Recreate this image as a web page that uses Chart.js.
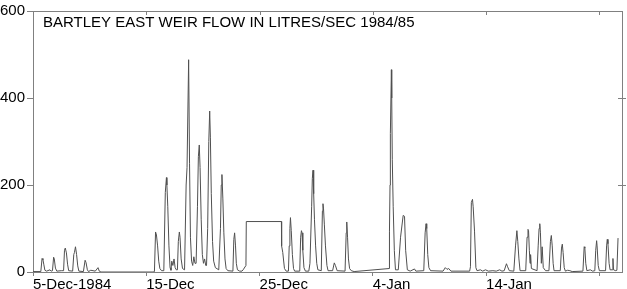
<!DOCTYPE html>
<html>
<head>
<meta charset="utf-8">
<script src="https://cdn.jsdelivr.net/npm/chart.js@4.4.1/dist/chart.umd.min.js"></script>
<style>
  html, body { margin: 0; padding: 0; background: #fff; }
  #wrap { width: 627px; height: 289px; }
</style>
</head>
<body>
<div id="wrap"><canvas id="flow-chart"></canvas></div>
<script>
const chartTitle = 'BARTLEY EAST WEIR FLOW IN LITRES/SEC 1984/85';
// days counted from 5-Dec-1984
const dateTicks = [0, 10, 20, 30, 40, 50];
const dateLabels = ['5-Dec-1984', '15-Dec', '25-Dec', '4-Jan', '14-Jan', ''];
const flowTicks = [0, 200, 400, 600];

const flowDays = [
  0.00, 0.69, 0.80, 0.88, 0.95, 1.05, 1.20, 1.50, 1.60, 1.72, 1.82, 1.88, 1.98, 2.10, 2.50, 2.70,
  2.78, 2.85, 2.95, 3.05, 3.15, 3.50, 3.60, 3.66, 3.75, 3.85, 3.95, 4.05, 4.45, 4.60, 4.68, 4.80,
  4.90, 5.10, 5.30, 5.50, 5.74, 5.85, 6.00, 10.60,
  10.72, 10.82, 10.90, 11.00, 11.10, 11.20, 11.35, 11.55, 11.68, 11.78, 11.82, 11.90, 12.00, 12.10,
  12.18, 12.25, 12.35, 12.45, 12.55, 12.65, 12.75, 12.83, 12.92, 12.98, 13.08, 13.20, 13.38, 13.52,
  13.60, 13.74, 13.82, 13.90, 14.00, 14.10, 14.20, 14.30, 14.40, 14.52, 14.60, 14.68, 14.75, 14.85,
  14.95, 15.05, 15.15, 15.25, 15.32, 15.42, 15.52, 15.60, 15.66, 15.74, 15.85, 15.95, 16.10, 16.40,
  16.55, 16.62, 16.68, 16.76, 16.85, 16.95, 17.05, 17.20, 17.65, 17.73, 17.80, 17.88, 17.95, 18.05,
  18.25, 18.45, 18.55, 18.80, 18.83, 21.93, 21.95, 22.05, 22.20, 22.35, 22.55, 22.62, 22.68, 22.73,
  22.80, 22.90, 23.00, 23.10, 23.55, 23.63, 23.70, 23.75, 23.82, 23.92, 24.05, 24.35, 24.45, 24.60,
  24.66, 24.72, 24.78, 24.85, 24.95, 25.05, 25.15, 25.45, 25.55, 25.60, 25.65, 25.72, 25.82, 25.95,
  26.05, 26.45, 26.60, 26.70, 26.85, 27.55, 27.65, 27.70, 27.77, 27.85, 27.95, 28.10, 28.35, 31.45,
  31.47, 31.52, 31.55, 31.64, 31.67, 31.72, 31.80, 31.90, 32.00, 32.25, 32.45, 32.68, 32.80, 32.90,
  33.05, 33.30, 33.68, 33.80, 34.50, 34.62, 34.70, 34.76, 34.85, 34.95, 35.10, 36.20, 36.40, 36.55,
  36.70, 36.90, 38.55, 38.62, 38.70, 38.80, 38.86, 38.98, 39.10, 39.20, 39.50, 39.70, 39.95, 40.20,
  40.60, 40.90, 41.20, 41.40, 41.60, 41.80, 41.90, 42.05, 42.45, 42.60, 42.72, 42.80, 42.90, 43.00,
  43.50, 43.62, 43.70, 43.75, 43.82, 43.88, 43.93, 44.00, 44.50, 44.60, 44.68, 44.74, 44.80, 44.88,
  44.95, 45.05, 45.25, 45.55, 45.68, 45.76, 45.84, 45.92, 46.00, 46.55, 46.66, 46.73, 46.80, 46.90,
  47.00, 47.20, 47.40, 47.60, 48.55, 48.66, 48.72, 48.80, 48.90, 49.20, 49.40, 49.60, 49.68, 49.76,
  49.80, 49.90, 50.00, 50.55, 50.64, 50.70, 50.76, 50.86, 50.95, 51.15, 51.20, 51.25, 51.45, 51.55,
  51.65
];
const flowValues = [
  1, 1, 31, 28, 18, 4, 2, 5, 2, 3, 34, 30, 9, 2, 3, 3,
  50, 55, 44, 18, 3, 2, 40, 45, 58, 40, 14, 2, 1, 27, 22, 5,
  1, 4, 3, 2, 10, 2, 0, 0,
  1, 92, 85, 60, 25, 8, 3, 3, 183, 217, 200, 150, 60, 10,
  4, 25, 15, 30, 10, 5, 5, 70, 92, 80, 30, 8, 5, 200,
  240, 488, 250, 80, 25, 15, 35, 20, 20, 150, 265, 292, 240, 120,
  40, 20, 30, 15, 15, 100, 300, 370, 310, 180, 70, 25, 10, 5,
  100, 200, 224, 170, 90, 30, 8, 3, 2, 75, 90, 60, 20, 5,
  2, 2, 5, 15, 116, 116, 60, 45, 8, 2, 2, 60, 100, 125,
  95, 40, 8, 2, 2, 80, 95, 90, 50, 10, 2, 2, 20, 150,
  215, 234, 180, 120, 60, 20, 5, 3, 140, 157, 145, 110, 60, 15,
  3, 3, 21, 15, 3, 2, 90, 115, 80, 30, 8, 3, 1, 8,
  94, 200, 318, 465, 400, 258, 150, 49, 5, 5, 80, 130, 128, 50,
  5, 2, 7, 2, 3, 90, 111, 100, 40, 10, 3, 2, 10, 6,
  8, 2, 2, 12, 160, 167, 150, 94, 10, 3, 5, 2, 5, 2,
  3, 2, 5, 2, 3, 19, 12, 3, 2, 60, 95, 70, 30, 3,
  3, 80, 98, 95, 50, 20, 40, 8, 3, 60, 100, 111, 90, 20,
  58, 10, 3, 3, 70, 84, 60, 20, 3, 3, 55, 64, 45, 10,
  2, 4, 3, 1, 2, 58, 55, 20, 3, 5, 2, 3, 50, 72,
  60, 15, 3, 3, 60, 75, 65, 20, 5, 5, 31, 5, 3, 4,
  78
];

const axisGrey = '#808080';
const labelFont = { family: '"Liberation Sans", Arial, sans-serif', size: 15 };

// title inside the plot + inward tick marks on the top and right frame
const frameExtras = {
  id: 'frameExtras',
  afterDraw(chart) {
    const ctx = chart.ctx;
    const area = chart.chartArea;
    const xs = chart.scales.x;
    const ys = chart.scales.y;
    ctx.save();
    ctx.strokeStyle = axisGrey;
    ctx.lineWidth = 1;
    ctx.beginPath();
    dateTicks.forEach(v => {
      const px = Math.round(xs.getPixelForValue(v)) + 0.5;
      if (v > 0 && px < area.right - 2) {
        ctx.moveTo(px, area.top);
        ctx.lineTo(px, area.top + 4);
      }
    });
    flowTicks.forEach(v => {
      const py = Math.round(ys.getPixelForValue(v)) + 0.5;
      if (v > 0 && v < 600) {
        ctx.moveTo(area.right - 4, py);
        ctx.lineTo(area.right + 4, py);
      }
    });
    ctx.stroke();
    ctx.fillStyle = '#000';
    ctx.font = '15px "Liberation Sans", Arial, sans-serif';
    ctx.textBaseline = 'alphabetic';
    ctx.fillText(chartTitle, area.left + 10, area.top + 16);
    ctx.restore();
  }
};

const ctx = document.getElementById('flow-chart').getContext('2d');
new Chart(ctx, {
  type: 'line',
  data: {
    datasets: [{
      data: flowDays.map((d, i) => ({ x: d, y: flowValues[i] })),
      borderColor: '#505050',
      borderWidth: 1,
      pointRadius: 0,
      tension: 0,
      fill: false
    }]
  },
  options: {
    responsive: true,
    maintainAspectRatio: false,
    animation: false,
    layout: { padding: { top: 2, right: 5, left: 0, bottom: 0 } },
    plugins: { legend: { display: false }, tooltip: { enabled: false } },
    scales: {
      x: {
        type: 'linear',
        min: 0,
        max: 52,
        afterBuildTicks: scale => { scale.ticks = dateTicks.map(v => ({ value: v })); },
        afterFit: scale => { scale.height = 17; },
        ticks: {
          callback: v => dateLabels[dateTicks.indexOf(v)],
          align: 'start',
          autoSkip: false,
          maxRotation: 0,
          padding: 0,
          color: '#000',
          font: labelFont
        },
        grid: { drawOnChartArea: false, tickLength: 4, color: axisGrey },
        border: { color: axisGrey }
      },
      y: {
        min: 0,
        max: 600,
        afterBuildTicks: scale => { scale.ticks = flowTicks.map(v => ({ value: v })); },
        afterFit: scale => { scale.width = 33; },
        ticks: { padding: 2, color: '#000', font: labelFont },
        grid: { drawOnChartArea: false, tickLength: 6, color: axisGrey },
        border: { color: axisGrey }
      },
      xTop: {
        type: 'linear',
        position: 'top',
        min: 0,
        max: 52,
        afterFit: scale => { scale.height = 0; },
        ticks: { display: false },
        grid: { display: false },
        border: { color: axisGrey }
      },
      yRight: {
        position: 'right',
        min: 0,
        max: 600,
        afterFit: scale => { scale.width = 0; },
        ticks: { display: false },
        grid: { display: false },
        border: { color: axisGrey }
      }
    }
  },
  plugins: [frameExtras]
});
</script>
</body>
</html>
